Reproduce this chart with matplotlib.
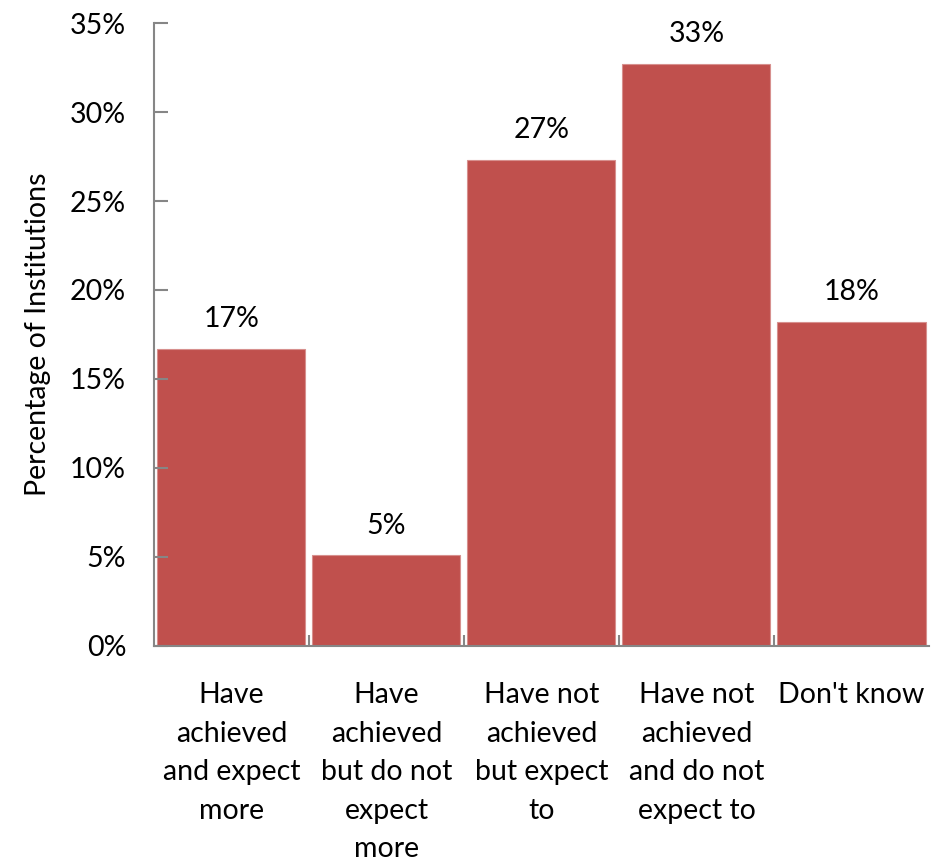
import matplotlib
matplotlib.use("Agg")
import matplotlib.pyplot as plt
from matplotlib.ticker import FixedLocator, PercentFormatter

plt.rcParams["font.family"] = ["Lato", "DejaVu Sans"]

categories = [
    "Have\nachieved\nand expect\nmore",
    "Have\nachieved\nbut do not\nexpect\nmore",
    "Have not\nachieved\nbut expect\nto",
    "Have not\nachieved\nand do not\nexpect to",
    "Don't know",
]
shares = [16.7, 5.1, 27.3, 32.7, 18.2]
share_labels = ["17%", "5%", "27%", "33%", "18%"]

BAR_RED = "#C0504D"
AXIS_GREY = "#868686"
FS = 20.5

fig = plt.figure(figsize=(9.44, 8.65), dpi=100)
ax = fig.add_axes([0.1631, 0.2532, 0.821, 0.7202])

x = range(len(categories))
bars = ax.bar(x, shares, width=0.955, color=BAR_RED, edgecolor="#D7908E",
              linewidth=0.8)

for bar, lab in zip(bars, share_labels):
    ax.annotate(lab, (bar.get_x() + bar.get_width() / 2, bar.get_height()),
                xytext=(0, 12), textcoords="offset points",
                ha="center", va="bottom", fontsize=FS)

ax.set_xlim(-0.5, len(categories) - 0.5)
ax.set_ylim(0, 35)
ax.yaxis.set_major_locator(FixedLocator(range(0, 36, 5)))
ax.yaxis.set_major_formatter(PercentFormatter(decimals=0))

# category labels sit under the bars, tick marks sit between them
ax.set_xticks(list(x))
ax.set_xticklabels(categories, fontsize=FS, linespacing=1.6, va="top")
ax.tick_params(axis="x", length=0, pad=26)
ax.set_xticks([i + 0.5 for i in range(len(categories) - 1)], minor=True)
ax.tick_params(axis="x", which="minor", direction="in", length=8,
               color=AXIS_GREY, width=1.5)
ax.tick_params(axis="y", direction="in", length=10, color=AXIS_GREY,
               width=1.5, labelsize=FS, pad=20)

for side in ("top", "right"):
    ax.spines[side].set_visible(False)
for side in ("left", "bottom"):
    ax.spines[side].set_color(AXIS_GREY)
    ax.spines[side].set_linewidth(1.5)

ax.set_ylabel("Percentage of Institutions", fontsize=FS, labelpad=14)

fig.savefig("out.png", dpi=100)
